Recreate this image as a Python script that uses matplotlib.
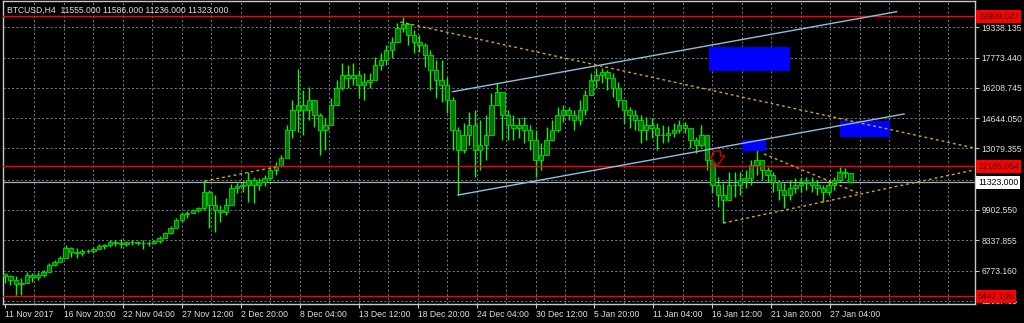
import matplotlib
matplotlib.use("Agg")
import matplotlib.pyplot as plt
import matplotlib.transforms as mtransforms
import numpy as np

# BTCUSD H4 at one candle per 3 H4 bars
highs = [6648, 6544, 6493, 6389, 6699, 6648, 6699, 6802, 7164, 7319,
         7526, 8094, 7990, 7939, 7887, 7887, 7990, 8145, 8145, 8352,
         8352, 8404, 8300, 8352, 8300, 8352, 8300, 8352, 8559, 8765,
         9075, 9488, 9798, 9850, 9953, 10056, 11451, 10934, 10676, 10160,
         10521, 11244, 11296, 11399, 11864, 11606, 11554, 11709, 12122, 12381,
         12742, 14292, 15583, 17184, 16099, 16254, 15583, 14912, 14653, 15686,
         16616, 17494, 17391, 17494, 17132, 16978, 16978, 17804, 18011, 18424,
         18837, 19560, 19870, 19560, 19199, 18940, 18527, 18166, 17649, 17649,
         16771, 15738, 14188, 14395, 14963, 15066, 14550, 14808, 15945, 16461,
         15841, 15066, 14808, 14653, 14705, 14292, 14033, 13362, 14188, 14550,
         15221, 15325, 15221, 15066, 15583, 16099, 16978, 17236, 17236, 17132,
         16978, 16513, 15480, 15221, 15066, 14808, 14705, 14653, 14395, 14292,
         14240, 14395, 14550, 14447, 14033, 13672, 14292, 13155, 12122, 11606,
         11296, 11864, 11864, 11864, 11967, 12484, 13000, 12484, 12122, 11864,
         11451, 11296, 11451, 11554, 11606, 11606, 11606, 11451, 11193, 11451,
         11606, 12122, 12070, 11709]
lows = [6131, 6028, 5511, 5511, 6234, 6183, 6286, 6441, 6699, 7009,
        7216, 7422, 7474, 7422, 7526, 7681, 7681, 7887, 7887, 7990,
        8042, 7939, 8042, 8094, 8094, 7887, 8042, 8145, 8197, 8455,
        8662, 8972, 9282, 9488, 9747, 9798, 9901, 8972, 8765, 9282,
        9643, 10315, 10780, 10831, 10315, 10263, 10934, 11141, 11451, 11709,
        12122, 13000, 13620, 13930, 13775, 14550, 14188, 12742, 13000, 14292,
        15738, 16099, 16203, 16358, 15738, 15583, 16203, 16771, 17132, 17391,
        17752, 18682, 19095, 18424, 18011, 18062, 17287, 16099, 15686, 15480,
        14912, 13000, 10676, 12846, 13259, 11606, 11967, 12484, 14188, 15325,
        13517, 13517, 13517, 13620, 13362, 13000, 11606, 11967, 12897, 13517,
        13930, 14447, 14550, 14033, 14292, 14808, 15841, 16203, 16461, 16099,
        15738, 15221, 14395, 14137, 14033, 13362, 13517, 13620, 13000, 13362,
        13414, 13672, 13879, 13879, 13104, 12846, 13155, 11967, 10780, 10056,
        9230, 10418, 10573, 10676, 11038, 11193, 11709, 11451, 11348, 10831,
        10418, 10005, 10418, 10780, 10831, 10934, 10831, 10676, 10315, 10676,
        10934, 11348, 11554, 11296]
closes = [6493, 6286, 6079, 6131, 6544, 6441, 6544, 6699, 7061, 7216,
          7422, 7939, 7732, 7681, 7784, 7784, 7887, 8042, 8094, 8249,
          8197, 8145, 8249, 8249, 8197, 8197, 8197, 8300, 8455, 8714,
          8972, 9385, 9695, 9747, 9901, 10005, 10831, 10160, 9901, 9798,
          10160, 11038, 11141, 11193, 11451, 11193, 11348, 11554, 11967, 12174,
          12587, 14033, 15066, 15325, 15066, 15583, 14808, 14033, 14292, 15325,
          16203, 16874, 16719, 16874, 16358, 16513, 16616, 17391, 17649, 18166,
          18579, 19302, 19508, 18940, 18579, 18424, 17907, 17132, 16616, 16358,
          15583, 14033, 13000, 13775, 14292, 13000, 13259, 13775, 15325, 15996,
          14808, 14292, 14137, 14292, 14033, 13517, 12484, 12742, 13517, 14033,
          14808, 15066, 14808, 14550, 15066, 15841, 16616, 16874, 17029, 16719,
          16203, 15583, 15066, 14808, 14550, 14033, 14292, 14137, 13775, 13775,
          13879, 14033, 14292, 14137, 13517, 13259, 13775, 12484, 11193, 10676,
          10418, 11193, 11193, 11451, 11554, 12226, 12484, 11967, 11709, 11348,
          10934, 10676, 11038, 11193, 11296, 11348, 11193, 11038, 10831, 11193,
          11451, 11864, 11813, 11323]
first_open = 6600

date_labels = ["11 Nov 2017", "16 Nov 20:00", "22 Nov 04:00", "27 Nov 12:00",
               "2 Dec 20:00", "8 Dec 04:00", "13 Dec 12:00", "18 Dec 20:00",
               "24 Dec 04:00", "30 Dec 12:00", "5 Jan 20:00", "11 Jan 04:00",
               "16 Jan 12:00", "21 Jan 20:00", "27 Jan 04:00"]
price_ticks = [19338.135, 17773.440, 16208.745, 14644.050, 13079.355,
               9902.550, 8337.855, 6773.160, 5208.465]
hidden_grid = 11467.245   # grid level sitting under the bid label

red_levels = [19909.027, 12165.054, 5442.106]
bid_price = 11323.000
title = "BTCUSD,H4  11555.000 11586.000 11236.000 11323.000"

# drawn objects (bar index, price)
channel_top = [(243, 16012), (484, 20144)]
channel_bottom = [(246, 10676), (488, 14860)]
yellow_lines = [
    [(108.6, 11399), (147, 12122)],
    [(214.6, 19612), (526, 13104)],
    [(412, 12794), (463, 10780)],
    [(390, 9230), (526, 11967)],
]
blue_boxes = [(382, 426, 17081, 18320), (453.5, 480.5, 13672, 14473),
              (400, 413, 12923, 13517)]
arrow_from = (386.5, 12950)
arrow_to = (386.5, 12190)

BARS_PER_CANDLE = 3

plt.rcParams["font.family"] = ["Liberation Sans", "DejaVu Sans"]

fig = plt.figure(figsize=(10.24, 3.23), dpi=100, facecolor="black")
ax = fig.add_axes([3 / 1024, 19 / 323, 972 / 1024, 303 / 323], facecolor="black")

xs = np.arange(len(closes)) * BARS_PER_CANDLE
opens = [first_open] + closes[:-1]
body_low = np.minimum(opens, closes)
body_h = np.abs(np.array(closes) - np.array(opens))

# grid
grid_col = "#6f7c8a"
for p in price_ticks + [hidden_grid]:
    ax.axhline(p, color=grid_col, lw=0.7, ls=(0, (2.2, 2.2)), zorder=0)
for b in range(16, 527, 16):
    ax.axvline(b, color=grid_col, lw=0.7, ls=(0, (2.2, 2.2)), zorder=0)

# candles
ax.vlines(xs, lows, highs, color="#00ff00", lw=1.0, zorder=3)
ax.bar(xs, body_h, bottom=body_low, width=2.4, color="#007800",
       edgecolor="#00e000", linewidth=0.6, zorder=4)

# horizontal levels
for lvl in red_levels:
    ax.axhline(lvl, color="#ff0000", lw=1.0, zorder=5)
ax.axhline(bid_price, color="#a8b0b8", lw=0.9, zorder=2)

# channel
for seg in (channel_top, channel_bottom):
    ax.plot([seg[0][0], seg[1][0]], [seg[0][1], seg[1][1]],
            color="#8cc0e0", lw=1.0, zorder=6)

# yellow dashed trend lines
for seg in yellow_lines:
    ax.plot([seg[0][0], seg[1][0]], [seg[0][1], seg[1][1]],
            color="#d8a41c", lw=1.0, ls=(0, (2, 2.2)), zorder=6)

# blue zones
for x0, x1, y0, y1 in blue_boxes:
    ax.fill_between([x0, x1], y0, y1, color="#0000ff", lw=0, zorder=5)

# sell arrow
ax.annotate("", xy=arrow_to, xytext=arrow_from, zorder=7,
            arrowprops=dict(arrowstyle="simple,head_width=1.1,head_length=0.7,tail_width=0.5",
                            fc="black", ec="#d00000", lw=1.0,
                            shrinkA=0, shrinkB=0))

ax.set_xlim(-1, 526.5)
ax.set_ylim(5046, 20696)

# axes styling
for sp in ax.spines.values():
    sp.set_color("#c8c8c8")
    sp.set_linewidth(1.0)

ax.yaxis.tick_right()
ax.set_yticks(price_ticks)
ax.set_yticklabels(["%.3f" % p for p in price_ticks])
ax.set_xticks(np.arange(len(date_labels)) * 32)
ax.set_xticklabels(date_labels)
for lab in ax.get_xticklabels():
    lab.set_ha("left")
ax.tick_params(axis="both", colors="#c8c8c8", labelcolor="#e0e0e0",
               labelsize=6.2, length=3, width=0.8, pad=1.5)

# price labels on the right axis
trans = mtransforms.blended_transform_factory(ax.transAxes, ax.transData)
for lvl in red_levels:
    ax.text(1.003, lvl, "%.3f" % lvl, transform=trans, fontsize=6.2,
            color="#200000", va="center", ha="left", zorder=10, clip_on=False,
            bbox=dict(boxstyle="square,pad=0.25", fc="#ff0000", ec="none"))
ax.text(1.003, bid_price, "%.3f" % bid_price, transform=trans, fontsize=6.2,
        color="black", va="center", ha="left", zorder=10, clip_on=False,
        bbox=dict(boxstyle="square,pad=0.25", fc="white", ec="none"))

ax.text(0.004, 0.985, title, transform=ax.transAxes, fontsize=6.2,
        color="#e0e0e0", va="top", ha="left", zorder=10)

fig.savefig("out.png", dpi=100, facecolor="black")
